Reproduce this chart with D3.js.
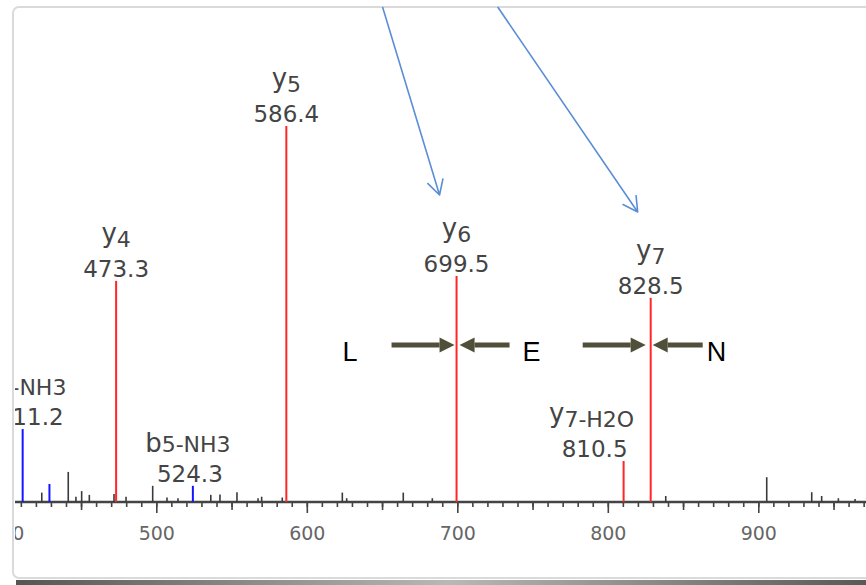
<!DOCTYPE html>
<html>
<head>
<meta charset="utf-8">
<script src="https://cdn.jsdelivr.net/npm/d3@7"></script>
<style>
  body { margin: 0; background: #fff; }
  svg { display: block; }
</style>
</head>
<body>
<div id="chart"></div>
<script>
"use strict";

/*
   Data
*/

// labelled fragment ions
let ionNames = ["b4-NH3", "b5-NH3", "y4", "y5", "y6", "y7-H2O", "y7"];
let ionMz = [411.2, 524.3, 473.3, 586.4, 699.5, 810.5, 828.5];
let ionIntensity = [19.4, 4.3, 58.8, 100, 60.1, 10.9, 54.3];

// unlabelled b-ion peak
let smallBMz = [429.0];
let smallBIntensity = [4.8];

// unassigned peaks (noise)
let noiseMz = [423.9, 441.5, 446.6, 450.4, 455.5, 471.9, 479.9, 497.6, 507.1, 514.4,
    536.2, 542.3, 553.6, 567.6, 570.0, 583.7, 623.6, 626.5, 664.1, 683.4,
    838.5, 905.6, 935.5, 942.1, 953.2, 964.3];
let noiseIntensity = [2.5, 8.0, 1.4, 2.9, 1.9, 2.1, 1.4, 4.3, 1.2, 1.0,
    1.9, 2.0, 2.6, 1.0, 1.4, 1.2, 2.5, 1.0, 2.5, 1.0,
    1.6, 6.6, 2.6, 1.6, 1.0, 0.8];

let majorTicks = [400, 500, 600, 700, 800, 900];

// residues read between the y ions
let residues = ["L", "E", "N"];

/*
   SVG setup
*/

let svgWidth = 866;
let svgHeight = 585;

let panelLeft = 13;
let panelTop = 7;
let panelBottom = 578;
let axisY = 502;

let svg = d3.select("#chart")
    .append("svg")
    .attr("width", svgWidth)
    .attr("height", svgHeight);

let defs = svg.append("defs");

let shadow = defs.append("linearGradient").attr("id", "shadow");
shadow.append("stop").attr("offset", "0%").attr("stop-color", "#555");
shadow.append("stop").attr("offset", "50%").attr("stop-color", "#b8b8b8");
shadow.append("stop").attr("offset", "100%").attr("stop-color", "#555");

defs.append("clipPath").attr("id", "panelClip")
    .append("rect")
    .attr("x", panelLeft + 2)
    .attr("y", panelTop)
    .attr("width", svgWidth)
    .attr("height", panelBottom - panelTop);

// bottom shadow under the panel
svg.append("rect")
    .attr("x", panelLeft + 3)
    .attr("y", panelBottom + 2)
    .attr("width", svgWidth)
    .attr("height", 5)
    .attr("fill", "url(#shadow)");

// panel
svg.append("rect")
    .attr("x", panelLeft)
    .attr("y", panelTop)
    .attr("width", svgWidth + 20)
    .attr("height", panelBottom - panelTop)
    .attr("rx", 6)
    .attr("fill", "#fff")
    .attr("stroke", "#dadada")
    .attr("stroke-width", 2);

let plot = svg.append("g").attr("clip-path", "url(#panelClip)");

/*
   Scales
*/

let xScale = d3.scaleLinear()
    .domain([400, 1000])
    .range([5.8, 908.8]);

let yScale = d3.scaleLinear()
    .domain([0, 100])
    .range([axisY, 126]);

/*
   Axis
*/

let axisFont = "'DejaVu Sans', Verdana, sans-serif";

function styleAxis(g) {
    g.select(".domain").remove();
    g.selectAll(".tick line").attr("stroke", "#444").attr("stroke-width", 1.6);
}

plot.append("g")
    .attr("transform", `translate(0, ${axisY})`)
    .call(d3.axisBottom(xScale).tickValues(d3.range(400, 1001, 10)).tickSize(5).tickFormat(""))
    .call(styleAxis);

plot.append("g")
    .attr("transform", `translate(0, ${axisY})`)
    .call(d3.axisBottom(xScale).tickValues(d3.range(450, 1000, 100)).tickSize(8).tickFormat(""))
    .call(styleAxis);

let xAxis = plot.append("g")
    .attr("transform", `translate(0, ${axisY})`)
    .call(d3.axisBottom(xScale)
        .tickValues(majorTicks)
        .tickSize(11)
        .tickSizeOuter(0)
        .tickPadding(14)
        .tickFormat(d3.format("d")))
    .call(styleAxis);

xAxis.selectAll("text")
    .attr("fill", "#666")
    .attr("font-family", axisFont)
    .attr("font-size", 19);

plot.append("line")
    .attr("x1", panelLeft)
    .attr("x2", svgWidth)
    .attr("y1", axisY)
    .attr("y2", axisY)
    .attr("stroke", "#444")
    .attr("stroke-width", 2.5);

/*
   Peaks
*/

function drawPeaks(mzs, intens, color, width) {
    plot.append("g")
        .selectAll("line")
        .data(mzs)
        .join("line")
        .attr("x1", d => xScale(d))
        .attr("x2", d => xScale(d))
        .attr("y1", axisY)
        .attr("y2", (d, i) => yScale(intens[i]))
        .attr("stroke", color)
        .attr("stroke-width", width);
}

drawPeaks(noiseMz, noiseIntensity, "#3a3a3a", 1.6);
drawPeaks(smallBMz, smallBIntensity, "#1515ff", 2);

function ionColor(name) {
    return name[0] === "y" ? "#ff2626" : "#1515ff";
}

ionNames.forEach((name, i) => {
    drawPeaks([ionMz[i]], [ionIntensity[i]], ionColor(name), 2);
});

// labels; some are pushed sideways so they do not collide
let nameShift = { "b4-NH3": 1, "b5-NH3": -5, "y7-H2O": -32 };
let valueShift = { "b4-NH3": 8, "b5-NH3": -3, "y7-H2O": -29 };

ionNames.forEach((name, i) => {
    let x = xScale(ionMz[i]);
    let top = yScale(ionIntensity[i]);
    let drop = name[0] === "y" ? 5 : 0;

    let t = plot.append("text")
        .attr("x", x + (nameShift[name] || 0))
        .attr("y", top - 34 - drop)
        .attr("text-anchor", "middle")
        .attr("font-family", axisFont)
        .attr("fill", "#444");
    t.append("tspan").attr("font-size", 26).text(name[0]);
    t.append("tspan").attr("font-size", 22).attr("dy", drop).text(name.slice(1));

    plot.append("text")
        .attr("x", x + (valueShift[name] || 0))
        .attr("y", top - 4)
        .attr("text-anchor", "middle")
        .attr("font-family", axisFont)
        .attr("font-size", 23)
        .attr("fill", "#444")
        .text(ionMz[i].toFixed(1));
});

/*
   Annotations
*/

let y6x = xScale(ionMz[ionNames.indexOf("y6")]);
let y7x = xScale(ionMz[ionNames.indexOf("y7")]);

// blue pointer arrows coming in from above
let blue = "#5b8ed6";
function openArrow(x1, y1, x2, y2) {
    let a = Math.atan2(y2 - y1, x2 - x1);
    let len = 17, spread = 0.5;
    let p = `M${x1},${y1}L${x2},${y2}` +
        `M${x2 - len * Math.cos(a - spread)},${y2 - len * Math.sin(a - spread)}L${x2},${y2}` +
        `L${x2 - len * Math.cos(a + spread)},${y2 - len * Math.sin(a + spread)}`;
    svg.append("path")
        .attr("d", p)
        .attr("fill", "none")
        .attr("stroke", blue)
        .attr("stroke-width", 1.6)
        .attr("stroke-linejoin", "round");
}
openArrow(y6x - 74, panelTop, y6x - 17, 195);
openArrow(y7x - 153, panelTop, y7x - 13, 212);

// dark arrows bracketing each residue
let olive = "#4f4f3a";
let arrowY = 345;
function solidArrow(xFrom, xTip) {
    let dir = Math.sign(xTip - xFrom);
    let headStart = xTip - dir * 15;
    svg.append("rect")
        .attr("x", Math.min(xFrom, headStart))
        .attr("y", arrowY - 2.5)
        .attr("width", Math.abs(headStart - xFrom))
        .attr("height", 5)
        .attr("fill", olive);
    svg.append("path")
        .attr("d", `M${xTip},${arrowY}L${headStart},${arrowY - 7.5}L${headStart},${arrowY + 7.5}Z`)
        .attr("fill", olive);
}
solidArrow(y6x - 65, y6x - 2);
solidArrow(y6x + 53, y6x + 3);
solidArrow(y7x - 68, y7x - 5);
solidArrow(y7x + 52, y7x + 2);

let residueX = [y6x - 114, y6x + 66, y7x + 56];
residues.forEach((r, i) => {
    svg.append("text")
        .attr("x", residueX[i])
        .attr("y", 361)
        .attr("font-family", "'Liberation Sans', Arial, sans-serif")
        .attr("font-size", 27)
        .attr("fill", "#000")
        .text(r);
});
</script>
</body>
</html>
